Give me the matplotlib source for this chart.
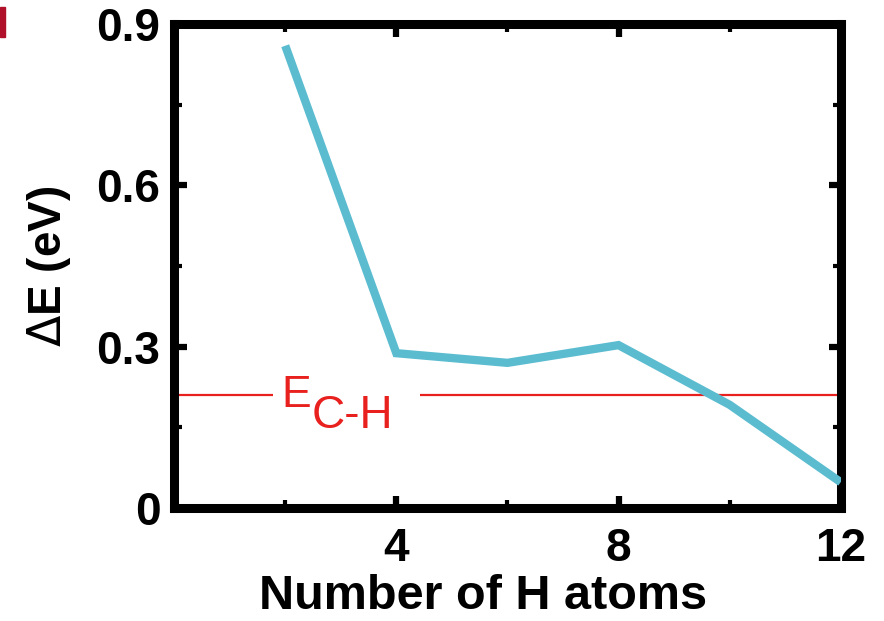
import matplotlib
matplotlib.use("Agg")
import matplotlib.pyplot as plt
from matplotlib.patches import Rectangle
from matplotlib.ticker import FixedLocator

# Energy difference versus number of adsorbed H atoms
n_h = [2, 4, 6, 8, 10, 12]
delta_e = [0.86, 0.288, 0.270, 0.303, 0.192, 0.048]
e_ch = 0.210

x_ticks = [4, 8, 12]
y_ticks = [0, 0.3, 0.6, 0.9]
y_tick_labels = ["0", "0.3", "0.6", "0.9"]

plt.rcParams["font.family"] = ["Liberation Sans", "DejaVu Sans"]

fig = plt.figure(figsize=(8.84, 6.21), dpi=100)
ax = fig.add_axes([0.197, 0.182, 0.754, 0.779])

# reference C-H energy, broken where the label sits
ax.hlines(e_ch, 0, 1.78, color="#e8201e", lw=1.6, zorder=2)
ax.hlines(e_ch, 4.43, 12, color="#e8201e", lw=1.6, zorder=2)
ax.text(1.93, e_ch + 0.0, "E", color="#e8201e", fontsize=32, ha="left", va="center")
ax.text(2.47, e_ch - 0.038, "C-H", color="#e8201e", fontsize=33, ha="left", va="center")

ax.plot(n_h, delta_e, color="#5bbcd0", lw=6, solid_capstyle="butt",
        solid_joinstyle="miter", zorder=3)

ax.set_xlim(0, 12)
ax.set_ylim(0, 0.9)
ax.xaxis.set_major_locator(FixedLocator(x_ticks))
ax.xaxis.set_minor_locator(FixedLocator([2, 6, 10]))
ax.yaxis.set_major_locator(FixedLocator(y_ticks))
ax.yaxis.set_minor_locator(FixedLocator([0.15, 0.45, 0.75]))
ax.set_yticklabels(y_tick_labels)

for s in ax.spines.values():
    s.set_linewidth(6.5)
ax.tick_params(which="major", direction="in", length=9, width=4.5,
               top=True, right=True, labelsize=33, pad=10)
ax.tick_params(which="minor", direction="in", length=6, width=3,
               top=True, right=True)
ax.tick_params(axis="x", which="major", pad=14)
for lab in ax.get_xticklabels() + ax.get_yticklabels():
    lab.set_fontweight("bold")

ax.set_xlabel("Number of H atoms", fontsize=35, fontweight="bold")
ax.xaxis.set_label_coords(0.463, -0.137)
ax.set_ylabel(r"$\Delta$E (eV)", fontsize=33, fontweight="bold")
ax.yaxis.set_label_coords(-0.152, 0.5)

fig.patches.append(Rectangle((0, 1 - 37 / 621), 5 / 884, 30 / 621,
                             transform=fig.transFigure, color="#b0102a"))

fig.savefig("out.png", dpi=100, facecolor="white")
